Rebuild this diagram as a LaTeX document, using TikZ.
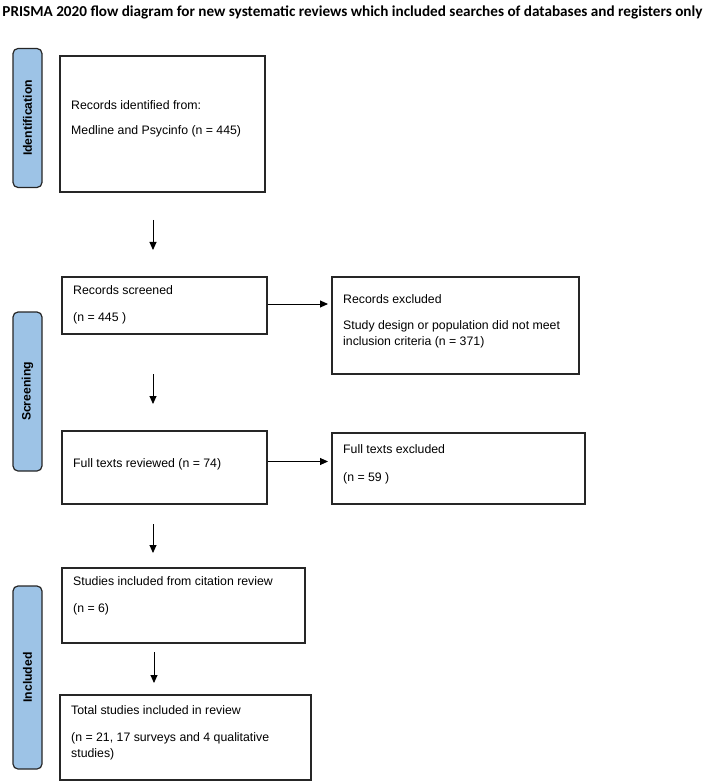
\documentclass[tikz,border=0pt]{standalone}
\usepackage{fontspec}
\setmainfont{Liberation Sans}
\newfontfamily\titlefont{Carlito}
\usetikzlibrary{arrows.meta}
\definecolor{barblue}{HTML}{9DC3E6}
\definecolor{edgecol}{HTML}{262626}
\begin{document}
\begin{tikzpicture}[x=1pt,y=-1pt,
  box/.style={draw=edgecol,line width=1.2pt,fill=white,inner sep=0pt},
  phase/.style={draw=edgecol,line width=1.2pt,fill=barblue,rounded corners=5pt,inner sep=0pt},
  txt/.style={anchor=base west,inner sep=0pt,font=\fontsize{12.3}{14}\selectfont,text=black},
  phasetxt/.style={rotate=90,inner sep=0pt,font=\bfseries\fontsize{12.2}{14}\selectfont,text=black},
  arr/.style={-{Triangle[length=8pt,width=7pt]},line width=0.9pt,draw=black}]
\useasboundingbox (0,0) rectangle (705,783);

% title
\node[inner sep=0pt] (title) at (352.5,12) {\resizebox{700pt}{!}{\titlefont\bfseries PRISMA 2020 flow diagram for new systematic reviews which included searches of databases and registers only}};

% phase bars
\node[phase,minimum width=29pt,minimum height=139pt] (pid) at (27.5,118) {};
\node[phasetxt] (pidt) at (pid.center) {Identification};
\node[phase,minimum width=29pt,minimum height=159pt] (pscr) at (27.5,391.5) {};
\node[phasetxt] (pscrt) at (pscr.center) {Screening};
\node[phase,minimum width=29pt,minimum height=183pt] (pinc) at (27.5,677.5) {};
\node[phasetxt] (pinct) at (pinc.center) {Included};

% boxes
\node[box,minimum width=205pt,minimum height=136pt] (idbox) at (162.5,124) {};
\node[box,minimum width=205pt,minimum height=57pt] (scr) at (164.5,305.5) {};
\node[box,minimum width=247pt,minimum height=97pt] (exc) at (455.5,325.5) {};
\node[box,minimum width=205pt,minimum height=73pt] (ftr) at (164.5,467.5) {};
\node[box,minimum width=253pt,minimum height=71pt] (fte) at (458.5,468.5) {};
\node[box,minimum width=243pt,minimum height=75pt] (sinc) at (183.5,605.5) {};
\node[box,minimum width=251pt,minimum height=85pt] (tot) at (185.5,737.5) {};

% texts
\node[txt] (t1a) at (71,109.5) {Records identified from:};
\node[txt] (t1b) at (71,134.5) {Medline and Psycinfo (n = 445)};
\node[txt] (t2a) at (73,294.5) {Records screened};
\node[txt] (t2b) at (73,321.5) {(n = 445 )};
\node[txt] (t3a) at (343,303.5) {Records excluded};
\node[txt] (t3b) at (343,329.5) {Study design or population did not meet};
\node[txt] (t3c) at (343,345.5) {inclusion criteria (n = 371)};
\node[txt] (t4a) at (73,467.5) {Full texts reviewed (n = 74)};
\node[txt] (t5a) at (343,453.5) {Full texts excluded};
\node[txt] (t5b) at (343,481.5) {(n = 59 )};
\node[txt] (t6a) at (73,585.5) {Studies included from citation review};
\node[txt] (t6b) at (73,612.5) {(n = 6)};
\node[txt] (t7a) at (71,714.5) {Total studies included in review};
\node[txt] (t7b) at (71,741.5) {(n = 21, 17 surveys and 4 qualitative};
\node[txt] (t7c) at (71,757.5) {studies)};

% arrow ends
\coordinate (a1s) at (153,220); \coordinate (a1e) at (153,250);
\coordinate (a2s) at (153,374); \coordinate (a2e) at (153,404);
\coordinate (a3s) at (153,524); \coordinate (a3e) at (153,553);
\coordinate (a4s) at (154,652); \coordinate (a4e) at (154,683);
\coordinate (h1e) at (328,304);
\coordinate (h2e) at (328,461.5);

\draw[arr] (a1s) -- (a1e);
\draw[arr] (a2s) -- (a2e);
\draw[arr] (a3s) -- (a3e);
\draw[arr] (a4s) -- (a4e);
\draw[arr] (scr.east |- h1e) -- (h1e);
\draw[arr] (ftr.east |- h2e) -- (h2e);
\end{tikzpicture}
\end{document}
